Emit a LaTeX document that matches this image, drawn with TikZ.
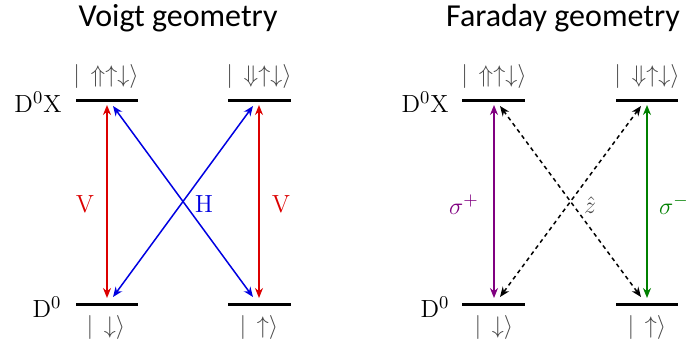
\documentclass[tikz,border=0pt]{standalone}
\usepackage{fontspec}
\usetikzlibrary{arrows.meta}
\newfontfamily\titlefont{Carlito}
\definecolor{ketgray}{RGB}{70,70,70}
\definecolor{vred}{RGB}{220,0,0}
\definecolor{hblue}{RGB}{0,0,225}
\definecolor{spurple}{RGB}{128,0,128}
\definecolor{sgreen}{RGB}{0,128,0}
\begin{document}
\begin{tikzpicture}[x=0.5pt,y=-0.5pt,
  level/.style={line width=1.5pt},
  title/.style={font=\titlefont\fontsize{16}{18}\selectfont,anchor=base},
  lab/.style={font=\fontsize{12.4}{15}\selectfont},
  ket/.style={font=\fontsize{12.4}{15}\selectfont,text=ketgray},
  trans/.style={{Stealth[length=5pt,width=4pt]}-{Stealth[length=5pt,width=4pt]},line width=0.75pt},
  dots/.style={trans,dash pattern=on 2pt off 1.8pt}]
\useasboundingbox (0,0) rectangle (686,348);
% titles
\node[title] (t1) at (178,26) {Voigt geometry};
\node[title] (t2) at (563,26) {Faraday geometry};
% ---------- Voigt ----------
\coordinate (a1) at (76,100); \coordinate (a2) at (138,100);
\coordinate (b1) at (228,100); \coordinate (b2) at (291,100);
\coordinate (c1) at (76,304); \coordinate (c2) at (138,304);
\coordinate (d1) at (228,304); \coordinate (d2) at (291,304);
\draw[level] (a1) -- (a2);
\draw[level] (b1) -- (b2);
\draw[level] (c1) -- (c2);
\draw[level] (d1) -- (d2);
\node[lab] (vx) at (38,102) {D$^0$X};
\node[lab] (v0) at (47,307) {D$^0$};
\node[ket] (k1) at (106,76) {$|\,\Uparrow\uparrow\downarrow\rangle$};
\node[ket] (k2) at (259,76) {$|\,\Downarrow\uparrow\downarrow\rangle$};
\node[ket] (k3) at (106,327) {$|\,\downarrow\rangle$};
\node[ket] (k4) at (259,327) {$|\,\uparrow\rangle$};
\coordinate (vtl) at (107,105); \coordinate (vbl) at (107,298);
\coordinate (vtr) at (259,105); \coordinate (vbr) at (259,298);
\coordinate (htl) at (113,106); \coordinate (hbl) at (113,297);
\coordinate (htr) at (253,106); \coordinate (hbr) at (253,297);
\draw[trans,vred] (vtl) -- (vbl);
\draw[trans,vred] (vtr) -- (vbr);
\draw[trans,hblue] (htl) -- (hbr);
\draw[trans,hblue] (htr) -- (hbl);
\node[lab,text=vred] (lv1) at (85,204) {V};
\node[lab,text=vred] (lv2) at (281,204) {V};
\node[lab,text=hblue] (lh) at (204,204) {H};
% ---------- Faraday ----------
\coordinate (e1) at (462,100); \coordinate (e2) at (525,100);
\coordinate (f1) at (616,100); \coordinate (f2) at (678,100);
\coordinate (g1) at (462,304); \coordinate (g2) at (525,304);
\coordinate (h1) at (616,304); \coordinate (h2) at (678,304);
\draw[level] (e1) -- (e2);
\draw[level] (f1) -- (f2);
\draw[level] (g1) -- (g2);
\draw[level] (h1) -- (h2);
\node[lab] (fx) at (425,102) {D$^0$X};
\node[lab] (f0) at (435,307) {D$^0$};
\node[ket] (k5) at (494,76) {$|\,\Uparrow\uparrow\downarrow\rangle$};
\node[ket] (k6) at (647,76) {$|\,\Downarrow\uparrow\downarrow\rangle$};
\node[ket] (k7) at (494,327) {$|\,\downarrow\rangle$};
\node[ket] (k8) at (647,327) {$|\,\uparrow\rangle$};
\coordinate (ptl) at (494,105); \coordinate (pbl) at (494,298);
\coordinate (gtr) at (647,105); \coordinate (gbr) at (647,298);
\coordinate (ztl) at (500,106); \coordinate (zbl) at (500,297);
\coordinate (ztr) at (641,106); \coordinate (zbr) at (641,297);
\draw[trans,spurple] (ptl) -- (pbl);
\draw[trans,sgreen] (gtr) -- (gbr);
\draw[dots] (ztl) -- (zbr);
\draw[dots] (ztr) -- (zbl);
\node[lab,text=spurple] (sp) at (464,205) {$\sigma^+$};
\node[lab,text=sgreen] (sm) at (674,205) {$\sigma^-$};
\node[lab,text=ketgray] (zh) at (590,205) {$\hat{z}$};
\end{tikzpicture}
\end{document}
